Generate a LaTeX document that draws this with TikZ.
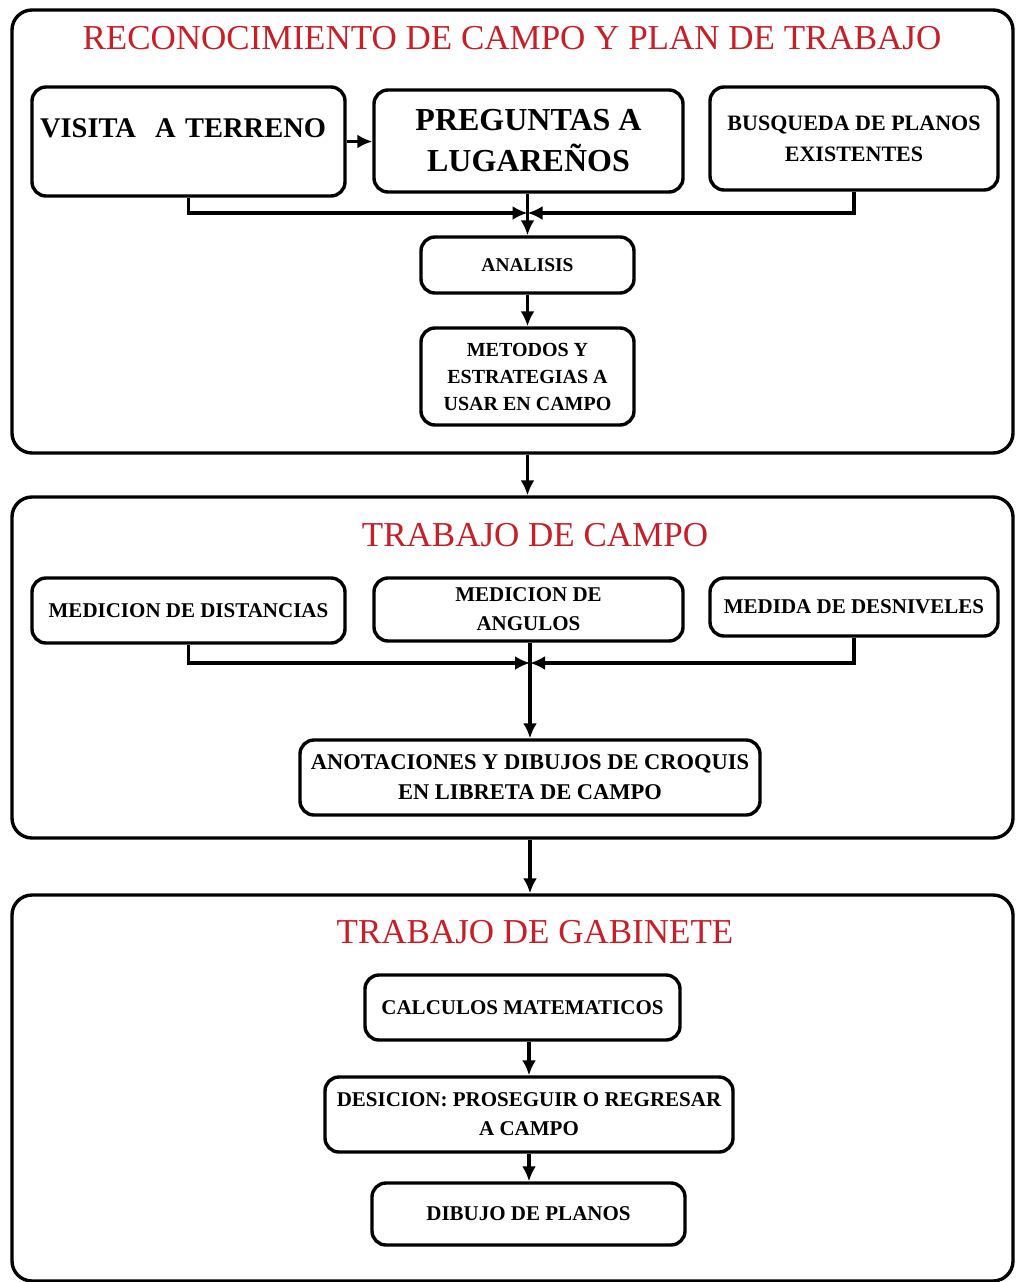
\documentclass[tikz,border=0pt]{standalone}
\usepackage{fontspec}
\setmainfont{Liberation Serif}
\usetikzlibrary{arrows.meta}
\definecolor{rojo}{RGB}{200,30,40}
\tikzset{
  caja/.style={draw, line width=3.4pt, rounded corners=14pt, inner sep=0pt, align=center, font=\bfseries\fontsize{21}{29}\selectfont},
  fase/.style={draw, line width=3.4pt, rounded corners=20pt, inner sep=0pt},
  titulo/.style={text=rojo, inner sep=0pt, font=\fontsize{35}{40}\selectfont},
  flecha/.style={line width=3.2pt, -{Latex[length=15pt,width=14pt]}}
}
\begin{document}
\begin{tikzpicture}[x=1pt,y=-1pt]
	\useasboundingbox (0,0) rectangle (1015,1282);
	\node[fase, minimum width=1001, minimum height=443] (fase1) at (512.5,231.5) {};
	\node[fase, minimum width=1001, minimum height=341] (fase2) at (512.5,667.5) {};
	\node[fase, minimum width=1001, minimum height=386] (fase3) at (512.5,1088) {};
	\node[titulo] (t1) at (512,38) {RECONOCIMIENTO DE CAMPO Y PLAN DE TRABAJO};
	\node[titulo] (t2) at (535,535) {TRABAJO DE CAMPO};
	\node[titulo] (t3) at (535,932) {TRABAJO DE GABINETE};
	\node[caja, align=left, text width=297, inner xsep=8pt, text height=50, text depth=59, font=\bfseries\fontsize{28.5}{34}\selectfont] (visita) at (188.5,141.5) {VISITA\ \ A TERRENO};
	\node[caja, minimum width=309, minimum height=102, font=\bfseries\fontsize{32}{41}\selectfont] (preguntas) at (528.5,141) {PREGUNTAS A\\LUGAREÑOS};
	\node[caja, minimum width=288, minimum height=103, font=\bfseries\fontsize{22}{31}\selectfont] (busqueda) at (854,138.5) {BUSQUEDA DE PLANOS\\EXISTENTES};
	\node[caja, minimum width=213, minimum height=56, font=\bfseries\fontsize{19.5}{27}\selectfont] (analisis) at (527.5,265) {ANALISIS};
	\node[caja, minimum width=213, minimum height=97, font=\bfseries\fontsize{20}{27}\selectfont] (metodos) at (527.5,376.5) {METODOS Y\\ESTRATEGIAS A\\USAR EN CAMPO};
	\node[caja, minimum width=313, minimum height=65] (distancias) at (188.5,610.5) {MEDICION DE DISTANCIAS};
	\node[caja, minimum width=309, minimum height=63] (angulos) at (528.5,609.5) {MEDICION DE\\ANGULOS};
	\node[caja, minimum width=288, minimum height=58] (desniveles) at (854,607) {MEDIDA DE DESNIVELES};
	\node[caja, minimum width=460, minimum height=75, font=\bfseries\fontsize{22.5}{30}\selectfont] (anotaciones) at (530,777.5) {ANOTACIONES Y DIBUJOS DE CROQUIS\\EN LIBRETA DE CAMPO};
	\node[caja, minimum width=315, minimum height=65] (calculos) at (522.5,1007.5) {CALCULOS MATEMATICOS};
	\node[caja, minimum width=408, minimum height=75] (desicion) at (529,1114.5) {DESICION: PROSEGUIR O REGRESAR\\A CAMPO};
	\node[caja, minimum width=313, minimum height=62] (planos) at (528.5,1214) {DIBUJO DE PLANOS};
	\coordinate (j1) at (527.5,213);
	\coordinate (j2) at (530,663);
	\draw[flecha] (visita.east) -- (visita.east -| preguntas.west);
	\draw[flecha] (visita.south) |- (j1);
	\draw[flecha] (busqueda.south) |- (j1);
	\draw[flecha] (preguntas.south -| analisis.north) -- (analisis.north);
	\draw[flecha] (analisis) -- (metodos);
	\draw[flecha] (metodos.south |- fase1.south) -- (metodos.south |- fase2.north);
	\draw[flecha] (distancias.south) |- (j2);
	\draw[flecha] (desniveles.south) |- (j2);
	\draw[flecha] (angulos.south -| anotaciones.north) -- (anotaciones.north);
	\draw[flecha] (anotaciones.south |- fase2.south) -- (anotaciones.south |- fase3.north);
	\draw[flecha] (calculos.south -| desicion.north) -- (desicion.north);
	\draw[flecha] (desicion.south) -- (desicion.south |- planos.north);
\end{tikzpicture}
\end{document}
